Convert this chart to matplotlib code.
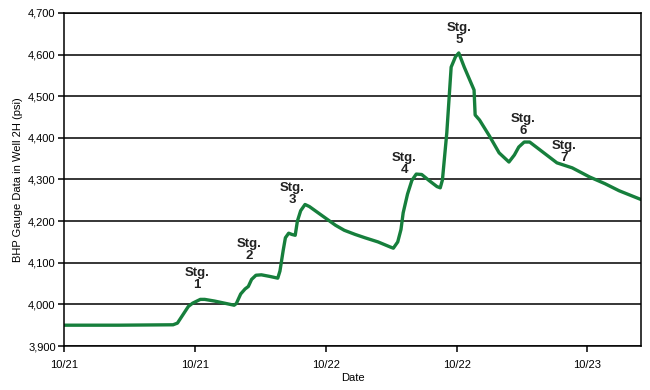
import matplotlib
matplotlib.use("Agg")
import matplotlib.pyplot as plt
from matplotlib.ticker import FuncFormatter

plt.rcParams['font.family'] = ['Liberation Sans', 'DejaVu Sans']

# hours since 10/21 00:00, bottom-hole pressure (psi)
hours = [0.0, 5.0, 10.0, 10.4, 10.9, 11.4, 11.8, 12.5, 12.9, 13.8, 14.7, 15.6,
         15.8, 16.2, 16.6, 16.9, 17.2, 17.6, 18.1, 18.9, 19.6,
         19.8, 20.1, 20.3, 20.6, 20.9, 21.2, 21.4, 21.7, 22.1, 22.5, 23.3,
         24.1, 24.9, 25.7, 26.7, 27.6, 28.8, 29.9, 30.2,
         30.6, 30.9, 31.1, 31.5, 31.9, 32.3, 32.8, 33.5, 34.2, 34.5,
         34.7, 35.1, 35.3, 35.5, 35.9, 36.2, 36.7, 37.6, 37.7, 38.1,
         39.0, 39.9, 40.8, 41.3, 41.7, 42.2, 42.7, 43.9, 45.2, 46.6,
         48.2, 49.6, 50.9, 52.9]
psi = [3950, 3950, 3951, 3955, 3975, 3995, 4003, 4012, 4012, 4008, 4003, 3998,
       4002, 4025, 4037, 4043, 4060, 4070, 4071, 4067, 4063,
       4080, 4130, 4160, 4171, 4168, 4166, 4200, 4225, 4240, 4235, 4220,
       4205, 4190, 4178, 4168, 4160, 4150, 4138, 4135,
       4150, 4180, 4220, 4265, 4298, 4313, 4312, 4297, 4283, 4280,
       4299, 4412, 4491, 4570, 4595, 4604, 4570, 4515, 4455, 4443,
       4405, 4364, 4342, 4359, 4378, 4390, 4390, 4366, 4340, 4328,
       4306, 4290, 4273, 4252]

tick_hours = [0, 12, 24, 36, 48]
tick_labels = ['10/21', '10/21', '10/22', '10/22', '10/23']

stage_names = ['Stg.\n1', 'Stg.\n2', 'Stg.\n3', 'Stg.\n4', 'Stg.\n5', 'Stg.\n6', 'Stg.\n7']
stage_hours = [12.2, 17.0, 20.9, 31.2, 36.2, 42.1, 45.9]
stage_psi = [4062, 4130, 4266, 4338, 4650, 4432, 4367]

fig = plt.figure(figsize=(6.5, 3.9), dpi=100)
ax = fig.add_axes([0.0985, 0.1128, 0.8875, 0.8539])

ax.plot(hours, psi, color='#167f3c', lw=2.4, solid_joinstyle='round',
        solid_capstyle='round')

for name, hx, py in zip(stage_names, stage_hours, stage_psi):
    ax.text(hx, py, name, ha='center', va='center', fontsize=9.5,
            fontweight='bold', linespacing=1.0, color='#222222')

ax.set_xlim(0, 52.9)
ax.set_ylim(3900, 4700)
ax.set_yticks(range(3900, 4701, 100))
ax.yaxis.set_major_formatter(FuncFormatter(lambda v, p: f"{int(v):,}"))
ax.set_xticks(tick_hours)
ax.set_xticklabels(tick_labels)

ax.grid(axis='y', color='black', lw=1.1)
ax.set_axisbelow(True)
for s in ax.spines.values():
    s.set_linewidth(1.1)
ax.tick_params(direction='out', length=4, width=1.1, labelsize=8, colors='black')
ax.tick_params(axis='x', pad=6)
ax.tick_params(axis='y', pad=2)

ax.set_xlabel('Date', fontsize=8, labelpad=2)
ax.set_ylabel('BHP Gauge Data in Well 2H (psi)', fontsize=8, labelpad=4)

fig.savefig('out.png', dpi=100, facecolor='white')
